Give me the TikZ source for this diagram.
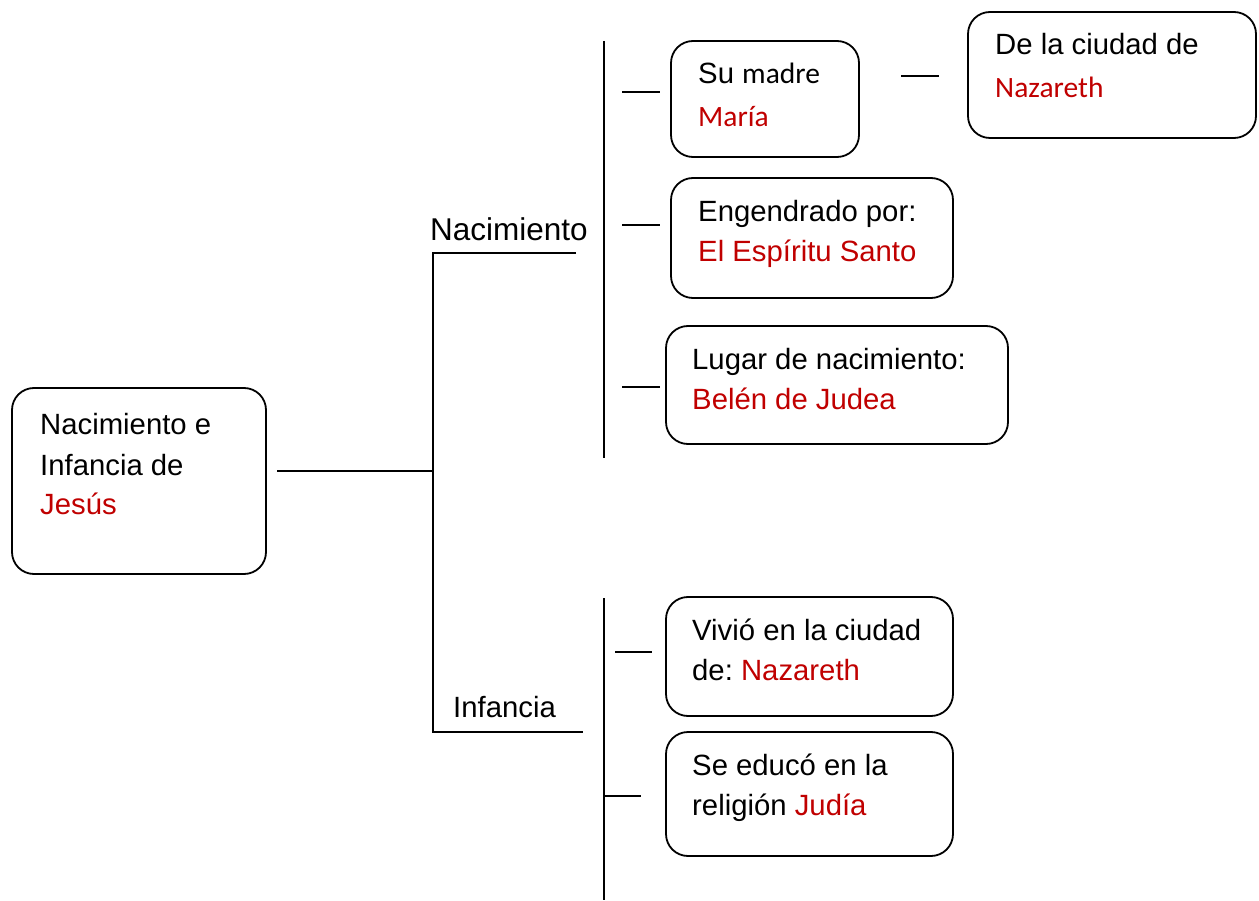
\documentclass[tikz,border=0pt]{standalone}
\usepackage{fontspec}
\setmainfont{Liberation Sans}
\newfontfamily\calfont{Carlito}
\definecolor{rd}{HTML}{C00000}
\newcommand\twolines[2]{\vtop{\hbox{\strut #1}\hbox{\strut #2}}}
\newcommand\threelines[3]{\vtop{\hbox{\strut #1}\hbox{\strut #2}\hbox{\strut #3}}}
\frenchspacing
\begin{document}
\begin{tikzpicture}[x=1pt,y=-1pt,
  box/.style={draw, line width=1.8pt, rounded corners=22pt, inner sep=0pt},
  txt/.style={anchor=base west, inner sep=0pt, font=\fontsize{29.3}{40}\selectfont},
  lbl/.style={anchor=base west, inner sep=0pt, font=\fontsize{31.5}{40}\selectfont},
  cal/.style={},
  ln/.style={line width=1.8pt}]
\useasboundingbox (0,0) rectangle (1259,901);
% boxes
\node[box, minimum width=254pt, minimum height=186pt] (main) at (139,481) {};
\node[box, minimum width=188pt, minimum height=116pt] (madre) at (765,99) {};
\node[box, minimum width=288pt, minimum height=126pt] (naz) at (1112,75) {};
\node[box, minimum width=282pt, minimum height=120pt] (eng) at (812,238) {};
\node[box, minimum width=342pt, minimum height=118pt] (lug) at (837,385) {};
\node[box, minimum width=287pt, minimum height=119pt] (viv) at (809.5,656.5) {};
\node[box, minimum width=287pt, minimum height=124pt] (edu) at (809.5,794) {};
% texts
\node[txt] (tmain) at (40,435) {\threelines{Nacimiento e}{Infancia de}{\color{rd}Jesús}};
\node[txt] (tmadre) at (698,84) {\vtop{\hbox{Su {\calfont\fontsize{29.5}{40}\selectfont madre}}\vskip 3pt\hbox{\calfont\fontsize{29.5}{40}\selectfont\color{rd}María}}};
\node[txt] (tnaz) at (995,55) {\vtop{\hbox{De la ciudad de}\vskip 3pt\hbox{\calfont\fontsize{29.5}{40}\selectfont\color{rd}Nazareth}}};
\node[txt] (teng) at (698,222) {\twolines{Engendrado por:}{\color{rd}El Espíritu Santo}};
\node[txt] (tlug) at (692,370) {\twolines{Lugar de nacimiento:}{\color{rd}Belén de Judea}};
\node[txt] (tviv) at (692,640) {\twolines{Vivió en la ciudad}{de: \color{rd}Nazareth}};
\node[txt] (tedu) at (692,775) {\twolines{Se educó en la}{religión \color{rd}Judía}};
\node[lbl] (lnac) at (430,241) {Nacimiento};
\node[txt] (linf) at (453,717) {Infancia};
% connector coordinates
\coordinate (m0) at (277,471);
\coordinate (m1) at (433,471);
\coordinate (a0) at (576,253);
\coordinate (a1) at (433,253);
\coordinate (a2) at (433,732);
\coordinate (a3) at (583,732);
\coordinate (v1t) at (604,41);
\coordinate (v1b) at (604,458);
\coordinate (v2t) at (604,598);
\coordinate (v2b) at (604,900);
\coordinate (k1a) at (622,92);  \coordinate (k1b) at (660,92);
\coordinate (k2a) at (622,225); \coordinate (k2b) at (660,225);
\coordinate (k3a) at (622,387); \coordinate (k3b) at (660,387);
\coordinate (k4a) at (901,76);  \coordinate (k4b) at (939,76);
\coordinate (k5a) at (615,652); \coordinate (k5b) at (652,652);
\coordinate (k6a) at (605,796); \coordinate (k6b) at (641,796);
% connectors
\draw[ln] (m0) -- (m1);
\draw[ln] (a0) -- (a1) -- (a2) -- (a3);
\draw[ln] (v1t) -- (v1b);
\draw[ln] (v2t) -- (v2b);
\draw[ln] (k1a) -- (k1b);
\draw[ln] (k2a) -- (k2b);
\draw[ln] (k3a) -- (k3b);
\draw[ln] (k4a) -- (k4b);
\draw[ln] (k5a) -- (k5b);
\draw[ln] (k6a) -- (k6b);
\end{tikzpicture}
\end{document}
